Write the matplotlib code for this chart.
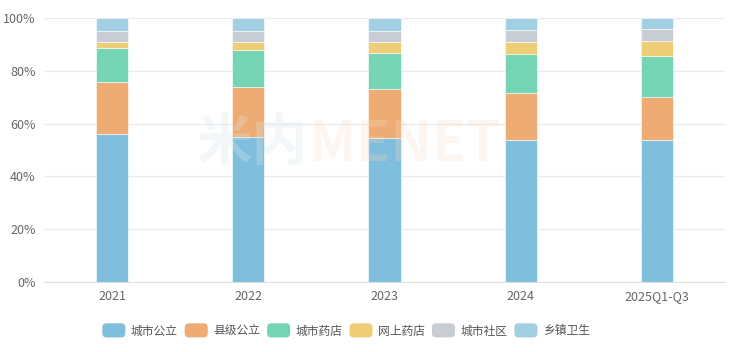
import matplotlib
matplotlib.use('Agg')
import matplotlib.pyplot as plt
import numpy as np
from matplotlib.patches import Patch, FancyBboxPatch
from matplotlib.legend_handler import HandlerPatch
from matplotlib.ticker import FuncFormatter

plt.rcParams['font.family'] = ['Noto Sans CJK SC', 'DejaVu Sans']

# 数据（占比 %）
years = ['2021', '2022', '2023', '2024', '2025Q1-Q3']
series_names = ['城市公立', '县级公立', '城市药店', '网上药店', '城市社区', '乡镇卫生']
city_public = [56.1, 54.9, 54.5, 53.9, 53.7]
county_public = [19.7, 19.0, 18.5, 17.6, 16.3]
city_pharmacy = [12.8, 14.1, 13.9, 15.0, 15.5]
online_pharmacy = [2.2, 3.0, 3.9, 4.3, 5.8]
city_community = [4.3, 4.1, 4.3, 4.5, 4.4]
township = [4.9, 4.9, 4.9, 4.7, 4.3]
colors = ['#7fbedc', '#eeac74', '#74d4b3', '#eecd77', '#c8ccd3', '#a3cfe3']


class RoundHandler(HandlerPatch):
    # 图例色块用圆角矩形
    def create_artists(self, legend, orig_handle, xdescent, ydescent,
                       width, height, fontsize, trans):
        p = FancyBboxPatch((-xdescent, -ydescent - 1), width, height + 2,
                           boxstyle='round,pad=0,rounding_size=3',
                           facecolor=orig_handle.get_facecolor(),
                           edgecolor='none', transform=trans)
        return [p]


fig = plt.figure(figsize=(7.3, 3.52), dpi=100)
ax = fig.add_axes([44 / 730, 70 / 352, 681 / 730, 264 / 352])

x = np.arange(len(years))
data = [city_public, county_public, city_pharmacy, online_pharmacy, city_community, township]
bottom = np.zeros(len(years))
for vals, c in zip(data, colors):
    ax.bar(x, vals, bottom=bottom, width=0.235, color=c,
           edgecolor='white', linewidth=0.4, zorder=3)
    bottom += np.array(vals)

ax.set_xlim(-0.5, len(years) - 0.5)
ax.set_ylim(0, 100)
ax.set_yticks(np.arange(0, 101, 20))
ax.yaxis.set_major_formatter(FuncFormatter(lambda v, p: '%d%%' % v))
ax.set_xticks(x)
ax.set_xticklabels(years)
ax.grid(axis='y', color='#ebebeb', linewidth=1, zorder=0)
for s in ['top', 'right', 'left']:
    ax.spines[s].set_visible(False)
ax.spines['bottom'].set_color('#e0e0e0')
ax.tick_params(axis='both', length=0, labelsize=9, colors='#666666')
ax.tick_params(axis='y', pad=6)
ax.tick_params(axis='x', pad=6)

# 水印
fig.text(0.345, 0.59, '米内', fontsize=40, color='#d8e6ec', alpha=0.3,
         ha='center', va='center', fontweight='bold', zorder=10)
fig.text(0.555, 0.59, 'MENET', fontsize=40, color='#f9d9c0', alpha=0.25,
         ha='center', va='center', fontweight='bold', zorder=10)

handles = [Patch(facecolor=c) for c in colors]
fig.legend(handles, series_names, loc='center', bbox_to_anchor=(0.474, 0.06),
           ncol=6, frameon=False, fontsize=8.5, labelcolor='#555555',
           handlelength=1.95, handleheight=1.1, handletextpad=0.45,
           columnspacing=0.6, handler_map={Patch: RoundHandler()})

fig.savefig('out.png', dpi=100)
